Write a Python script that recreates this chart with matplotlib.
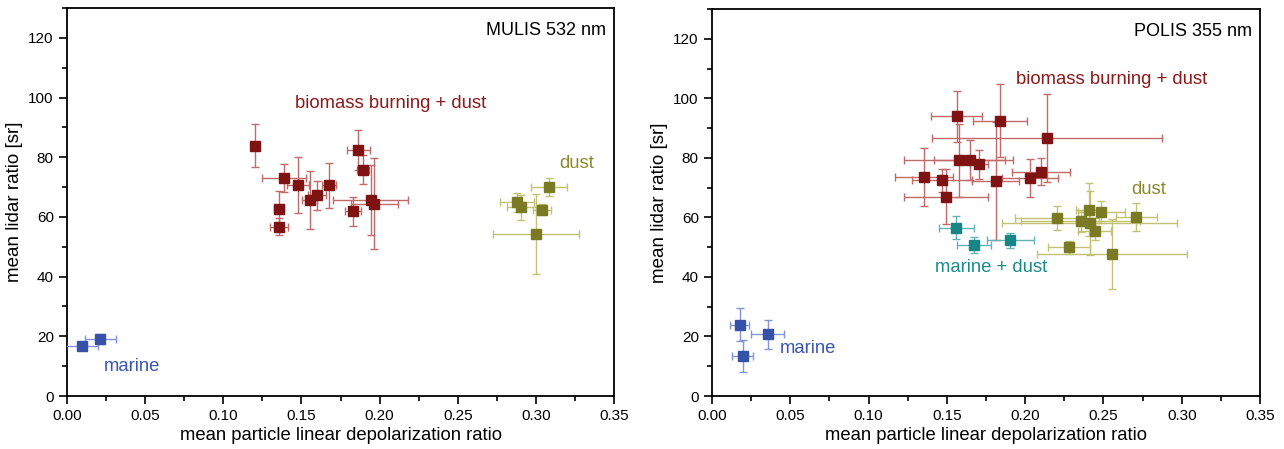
import matplotlib
matplotlib.use("Agg")
import matplotlib.pyplot as plt
from matplotlib.ticker import MultipleLocator, FormatStrFormatter

plt.rcParams['font.family'] = ['Liberation Sans', 'DejaVu Sans']

# ---- MULIS 532 nm ----
mulis_bb_x = [0.1205, 0.139, 0.148, 0.1356, 0.1356, 0.1552, 0.160, 0.1678, 0.1865, 0.1895, 0.1829, 0.1944, 0.1965]
mulis_bb_y = [83.9, 73.1, 70.7, 62.7, 56.8, 65.7, 67.2, 70.6, 82.5, 75.8, 61.9, 65.7, 64.4]
mulis_bb_xerr = [0.002, 0.014, 0.007, 0.003, 0.0056, 0.0047, 0.006, 0.0045, 0.0071, 0.004, 0.0051, 0.024, 0.015]
mulis_bb_yerr = [7.3, 4.8, 9.5, 6.0, 3.0, 9.8, 4.8, 7.5, 6.6, 4.9, 4.9, 11.7, 15.3]

mulis_dust_x = [0.3085, 0.288, 0.2908, 0.3042, 0.300]
mulis_dust_y = [70.0, 64.9, 63.3, 62.5, 54.2]
mulis_dust_xerr = [0.0113, 0.0108, 0.009, 0.0058, 0.0277]
mulis_dust_yerr = [3.0, 3.3, 4.2, 1.7, 13.4]

mulis_marine_x = [0.0098, 0.0213]
mulis_marine_y = [16.8, 19.1]
mulis_marine_xerr = [0.0102, 0.0101]
mulis_marine_yerr = [0.8, 1.8]

# ---- POLIS 355 nm ----
polis_bb_x = [0.1562, 0.1839, 0.214, 0.1575, 0.1645, 0.1705, 0.1356, 0.1469, 0.1495, 0.1811, 0.2033, 0.2101]
polis_bb_y = [93.9, 92.5, 86.8, 79.2, 79.4, 77.9, 73.6, 72.5, 67.0, 72.2, 73.1, 75.4]
polis_bb_xerr = [0.0162, 0.0174, 0.0735, 0.0349, 0.0229, 0.006, 0.0184, 0.0192, 0.027, 0.015, 0.018, 0.0186]
polis_bb_yerr = [8.5, 12.3, 14.8, 12.3, 6.7, 4.9, 9.7, 3.9, 9.2, 19.9, 6.4, 4.4]

polis_md_x = [0.156, 0.1673, 0.1905]
polis_md_y = [56.5, 50.8, 52.3]
polis_md_xerr = [0.0112, 0.011, 0.0149]
polis_md_yerr = [3.9, 2.7, 2.5]

polis_dust_x = [0.2405, 0.2485, 0.2203, 0.271, 0.2354, 0.2412, 0.2444, 0.2278, 0.2555]
polis_dust_y = [62.6, 61.8, 59.9, 60.1, 58.8, 58.1, 55.3, 49.9, 47.7]
polis_dust_xerr = [0.008, 0.015, 0.027, 0.013, 0.038, 0.056, 0.0106, 0.0134, 0.048]
polis_dust_yerr = [9.0, 3.8, 4.0, 4.6, 3.7, 10.6, 2.8, 2.2, 11.9]

polis_marine_x = [0.0176, 0.0355, 0.0195]
polis_marine_y = [24.0, 20.8, 13.5]
polis_marine_xerr = [0.0062, 0.0104, 0.0068]
polis_marine_yerr = [5.6, 4.9, 5.4]

# marker colour, error bar colour
c_bb = ('#7f1212', '#c06a6a')
c_dust = ('#7a7a25', '#c2c272')
c_md = ('#168585', '#62b4b4')
c_marine = ('#3651a8', '#8395d6')


def draw(ax, x, y, xerr, yerr, cols):
    ax.errorbar(x, y, xerr=xerr, yerr=yerr, fmt='s', ms=6.5, mfc=cols[0], mec=cols[0],
                ecolor=cols[1], elinewidth=1.0, capsize=2.8, capthick=1.0, zorder=3)


def style(ax):
    ax.set_xlim(0, 0.35)
    ax.set_ylim(0, 130)
    ax.xaxis.set_major_locator(MultipleLocator(0.05))
    ax.xaxis.set_minor_locator(MultipleLocator(0.025))
    ax.yaxis.set_major_locator(MultipleLocator(20))
    ax.yaxis.set_minor_locator(MultipleLocator(10))
    ax.xaxis.set_major_formatter(FormatStrFormatter('%.2f'))
    ax.tick_params(which='major', direction='out', length=6, width=1.2, labelsize=11)
    ax.tick_params(which='minor', direction='out', length=3.5, width=1.2)
    for s in ax.spines.values():
        s.set_linewidth(1.3)
    ax.set_xlabel('mean particle linear depolarization ratio', fontsize=13.3, labelpad=3)
    ax.set_ylabel('mean lidar ratio [sr]', fontsize=13.5, labelpad=4)


fig = plt.figure(figsize=(12.84, 4.49), dpi=100)
ax1 = fig.add_axes([0.0522, 0.118, 0.4260, 0.864])
ax2 = fig.add_axes([0.5545, 0.118, 0.4268, 0.862])

draw(ax1, mulis_bb_x, mulis_bb_y, mulis_bb_xerr, mulis_bb_yerr, c_bb)
draw(ax1, mulis_dust_x, mulis_dust_y, mulis_dust_xerr, mulis_dust_yerr, c_dust)
draw(ax1, mulis_marine_x, mulis_marine_y, mulis_marine_xerr, mulis_marine_yerr, c_marine)
style(ax1)
ax1.text(0.986, 0.965, 'MULIS 532 nm', transform=ax1.transAxes, ha='right', va='top', fontsize=13)
ax1.text(0.207, 98, 'biomass burning + dust', color='#8b1a1a', ha='center', va='center', fontsize=13.3)
ax1.text(0.326, 77.8, 'dust', color='#8a8a30', ha='center', va='center', fontsize=13.3)
ax1.text(0.0415, 10, 'marine', color='#3a55b5', ha='center', va='center', fontsize=13.3)

draw(ax2, polis_bb_x, polis_bb_y, polis_bb_xerr, polis_bb_yerr, c_bb)
draw(ax2, polis_md_x, polis_md_y, polis_md_xerr, polis_md_yerr, c_md)
draw(ax2, polis_dust_x, polis_dust_y, polis_dust_xerr, polis_dust_yerr, c_dust)
draw(ax2, polis_marine_x, polis_marine_y, polis_marine_xerr, polis_marine_yerr, c_marine)
style(ax2)
ax2.text(0.986, 0.965, 'POLIS 355 nm', transform=ax2.transAxes, ha='right', va='top', fontsize=13)
ax2.text(0.2555, 106.3, 'biomass burning + dust', color='#8b1a1a', ha='center', va='center', fontsize=13.3)
ax2.text(0.279, 69.4, 'dust', color='#8a8a30', ha='center', va='center', fontsize=13.3)
ax2.text(0.178, 43.1, 'marine + dust', color='#1a8a8a', ha='center', va='center', fontsize=13.3)
ax2.text(0.061, 16, 'marine', color='#3a55b5', ha='center', va='center', fontsize=13.3)

fig.savefig('out.png', dpi=100)
